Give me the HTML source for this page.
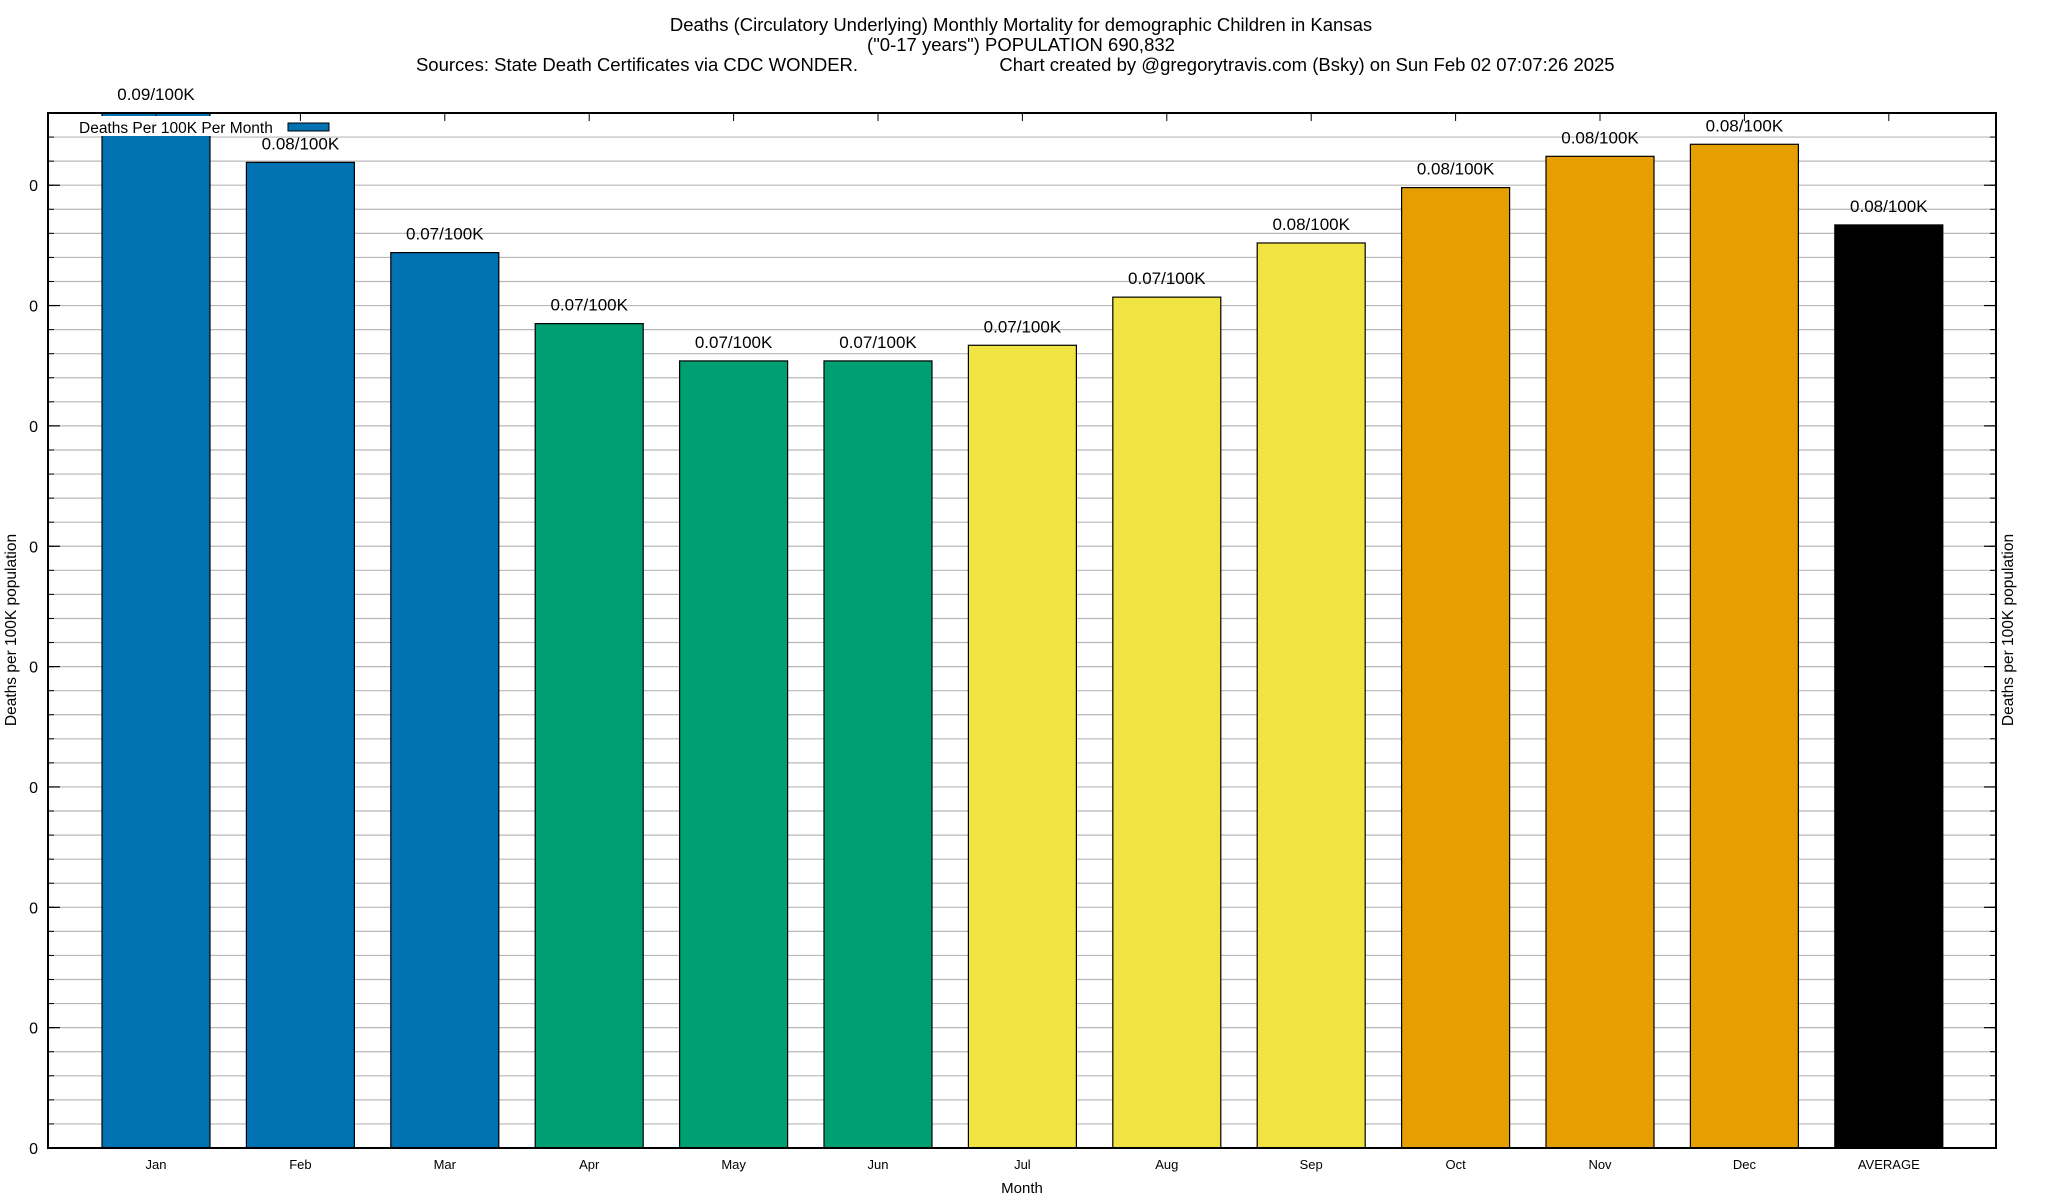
<!DOCTYPE html>
<html><head><meta charset="utf-8"><style>
html,body{margin:0;padding:0;background:#fff;}
svg{display:block;font-family:"Liberation Sans",Arial,sans-serif;}
</style></head><body>
<svg id="chart" width="2048" height="1200" viewBox="0 0 2048 1200" xmlns="http://www.w3.org/2000/svg">
<g font-size="18.5" text-anchor="middle" fill="#000">
<text x="1021" y="31">Deaths (Circulatory Underlying) Monthly Mortality for demographic Children in Kansas</text>
<text x="1021" y="51">("0-17 years") POPULATION 690,832</text>
<text x="637" y="71">Sources: State Death Certificates via CDC WONDER.</text>
<text x="1307" y="71">Chart created by @gregorytravis.com (Bsky) on Sun Feb 02 07:07:26 2025</text>
</g>
<g id="grid"></g>
<g id="bars"></g>
<g id="axes"></g>
<text x="16" y="630" font-size="15.5" text-anchor="middle" transform="rotate(-90 16 630)">Deaths per 100K population</text>
<text x="2013" y="630" font-size="15.5" text-anchor="middle" transform="rotate(-90 2013 630)">Deaths per 100K population</text>
<text x="1022" y="1193" font-size="15" text-anchor="middle">Month</text>
<g>
<rect x="77" y="116" width="206" height="20" fill="#fff"/>
<text x="79" y="133" font-size="15.5">Deaths Per 100K Per Month</text>
<rect x="288" y="123" width="41" height="8" fill="#0072b2" stroke="#000" stroke-width="1"/>
</g>
</svg>
<script>
const categories = ["Jan","Feb","Mar","Apr","May","Jun","Jul","Aug","Sep","Oct","Nov","Dec","AVERAGE"];
const values = [0.0880,0.0819,0.0744,0.0685,0.0654,0.0654,0.0667,0.0707,0.0752,0.0798,0.0824,0.0834,0.0767];
const valueLabels = ["0.09/100K","0.08/100K","0.07/100K","0.07/100K","0.07/100K","0.07/100K","0.07/100K","0.07/100K","0.08/100K","0.08/100K","0.08/100K","0.08/100K","0.08/100K"];
const colors = ["#0072b2","#0072b2","#0072b2","#009e73","#009e73","#009e73","#f0e442","#f0e442","#f0e442","#e69f00","#e69f00","#e69f00","#000000"];
const yTicks = [0,0.01,0.02,0.03,0.04,0.05,0.06,0.07,0.08];
const yTickLabels = ["0","0","0","0","0","0","0","0","0"];

const NS="http://www.w3.org/2000/svg";
const L=48,R=1996,T=113,B=1148,YMAX=0.0860;
const x0=156,step=144.4,bw=108;
function y(v){return B-(v/YMAX)*(B-T);}
function x(i){return x0+i*step;}
function mk(tag,attrs,parent){const e=document.createElementNS(NS,tag);for(const k in attrs)e.setAttribute(k,attrs[k]);parent.appendChild(e);return e;}
const grid=document.getElementById('grid'),bars=document.getElementById('bars'),axes=document.getElementById('axes');
for(let v=0; v<=YMAX+1e-9; v+=0.002){
  const yy=y(v);
  if(yy<T+1) continue;
  const g=mk('line',{x1:L,x2:R,y1:yy,y2:yy,stroke:'#b8b8b8','stroke-width':1.2},grid);
  
  
  const t1=mk('line',{x1:L,x2:L+6,y1:yy,y2:yy,stroke:'#000','stroke-width':1},axes);
  
  
  const t2=mk('line',{x1:R-6,x2:R,y1:yy,y2:yy,stroke:'#000','stroke-width':1},axes);
  
  
}
yTicks.forEach((v,i)=>{
  const yy=y(v);
  const t=mk('line',{x1:L,x2:L+12,y1:yy,y2:yy,stroke:'#000','stroke-width':1.2},axes);
  
  
  const t2=mk('line',{x1:R-12,x2:R,y1:yy,y2:yy,stroke:'#000','stroke-width':1.2},axes);
  
  
  const lb=mk('text',{x:38,y:yy+6,'font-size':16,'text-anchor':'end'},axes);
  lb.textContent=yTickLabels[i];
  
  
});
categories.forEach((c,i)=>{
  const cx=x(i);
  const clipped=y(values[i])<T;
  const top=clipped?T:y(values[i]);
  const r=mk('rect',{x:cx-bw/2,y:top,width:bw,height:B-top,fill:colors[i],stroke:'#000','stroke-width':1.2},bars);
  
  
  const vl=mk('text',{x:cx,y:top-13,'font-size':17,'text-anchor':'middle'},bars);
  vl.textContent=valueLabels[i];
  
  
  const xl=mk('text',{x:cx,y:1169,'font-size':13,'text-anchor':'middle'},axes);
  xl.textContent=c;
  
  
  const tt=mk('line',{x1:cx,x2:cx,y1:T,y2:T+8,stroke:'#000','stroke-width':1},axes);
  
  
});
const frame=mk('rect',{x:L,y:T,width:R-L,height:B-T,fill:'none',stroke:'#000','stroke-width':2},axes);


</script>
</body></html>
